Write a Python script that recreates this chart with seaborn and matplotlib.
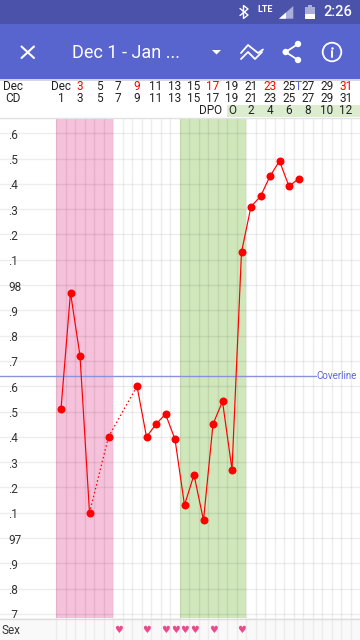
import matplotlib
matplotlib.use('Agg')
import matplotlib.pyplot as plt
from matplotlib.patches import Circle, Polygon, Rectangle
import seaborn as sns
import pandas as pd
import numpy as np

# chart data
days = [1, 2, 3, 4, 6, 9, 10, 11, 12, 13, 14, 15, 16, 17, 18, 19, 20, 21, 22, 23, 24, 25, 26]
temps = [97.51, 97.97, 97.72, 97.10, 97.40, 97.60, 97.40, 97.45, 97.49, 97.39, 97.13, 97.25, 97.07,
         97.45, 97.54, 97.27, 98.13, 98.31, 98.35, 98.43, 98.49, 98.39, 98.42]
coverline = 97.64
sex_days = [7, 10, 12, 13, 14, 15, 17, 20]
period = (0.5, 6.5)
fertile = (13.5, 20.5)
ytick_vals = [96.7, 96.8, 96.9, 97.0, 97.1, 97.2, 97.3, 97.4, 97.5, 97.6, 97.7, 97.8, 97.9, 98.0,
              98.1, 98.2, 98.3, 98.4, 98.5, 98.6]
ytick_text = ['.7', '.8', '.9', '97', '.1', '.2', '.3', '.4', '.5', '.6', '.7', '.8', '.9', '98',
              '.1', '.2', '.3', '.4', '.5', '.6']
odd_days = list(range(1, 32, 2))
date_row = ['Dec'] + [str(d) for d in odd_days[1:]]
red_dates = [3, 9, 17, 23, 31]
dpo_days = [19, 21, 23, 25, 27, 29, 31]
dpo_row = ['O', '2', '4', '6', '8', '10', '12']

INDIGO_DARK = '#4a52a9'
INDIGO = '#5865cf'
RED = '#ff0000'
HEART = '#ec4a8c'

sns.set_theme(style='white')
plt.rcParams['font.family'] = ['Roboto', 'DejaVu Sans']
plt.rcParams['text.color'] = '#222222'

W, H = 360, 640
fig = plt.figure(figsize=(W / 100, H / 100), dpi=100)
XLIM = (1 - 61 / 9.5, 1 + (W - 61) / 9.5)
YLIM = (98 - (618 - 285) / 253, 98 + (285 - 118) / 253)

ax = fig.add_axes([0, (H - 618) / H, 1, 500 / H])
sex_ax = fig.add_axes([0, 0, 1, (H - 618) / H], facecolor='#f9f9f9')
chrome = fig.add_axes([0, 0, 1, 1], zorder=5)
chrome.set_xlim(0, W)
chrome.set_ylim(H, 0)
chrome.axis('off')

# temperature chart
df = pd.DataFrame({'day': days, 'temp': temps})
df['run'] = (df['day'].diff().fillna(1) > 1).cumsum()
ax.axvspan(*period, color='#f6c1da', lw=0, zorder=0)
ax.axvspan(*fertile, color='#d0e7bb', lw=0, zorder=0)
ax.set_axisbelow(True)
grid_x = np.arange(period[0], 32)
ax.set_xticks(grid_x)
ax.set_yticks(ytick_vals)
ax.grid(True, color='black', alpha=0.07, lw=1)
ax.tick_params(length=0, labelbottom=False, labelleft=False)
ax.axhline(coverline, xmax=316 / W, color='#8b92dc', lw=1, zorder=2)

# gaps between recorded days are dotted, runs of days are solid
for a, b in zip(df.index[:-1], df.index[1:]):
    if df.loc[b, 'run'] != df.loc[a, 'run']:
        gap = df.loc[[a, b]]
        sns.lineplot(data=gap, x='day', y='temp', color=RED, lw=0.9, ax=ax, linestyle=(0, (1.2, 2)), zorder=3)
sns.lineplot(data=df, x='day', y='temp', units='run', estimator=None, color=RED, lw=0.85, ax=ax, zorder=3)
sns.scatterplot(data=df, x='day', y='temp', color=RED, s=33, linewidth=0, ax=ax, zorder=4)
ax.set_xlim(*XLIM)
ax.set_ylim(*YLIM)
ax.set_xlabel('')
ax.set_ylabel('')
for s in ax.spines.values():
    s.set_visible(False)
for v, t in zip(ytick_vals, ytick_text):
    ax.annotate(t, xy=(0, v), xycoords=ax.get_yaxis_transform(), xytext=(8, -2), textcoords='offset pixels',
                ha='left', va='center', fontsize=8.5, color='#333333')
ax.annotate('Coverline', xy=(0, coverline), xycoords=ax.get_yaxis_transform(), xytext=(316, 0),
            textcoords='offset pixels', ha='left', va='center', fontsize=7, color='#5b66d6')

# sex row
sex_ax.set_xlim(*XLIM)
sex_ax.set_ylim(0, 1)
sex_ax.set_xticks(grid_x)
sex_ax.set_yticks([])
sex_ax.grid(True, axis='x', color='black', alpha=0.05, lw=1)
sex_ax.tick_params(length=0, labelbottom=False)
for s in sex_ax.spines.values():
    s.set_visible(False)
sex_ax.text(2 / W, 0.45, 'Sex', transform=sex_ax.transAxes, ha='left', va='center', fontsize=8.5, color='#333333')
for d in sex_days:
    sex_ax.text(d, 0.45, '\u2665', family='DejaVu Sans', ha='center', va='center', fontsize=7, color=HEART)
chrome.plot([0, W], [618.5, 618.5], color='#dcdcdc', lw=1)

# header table, same x scale as the chart
def day_x(d):
    return 61 + (d - 1) * 9.5

chrome.add_patch(Rectangle((227, 105), W - 227, 12, color='#dcedcf', lw=0))
chrome.plot([0, W], [117.5, 117.5], color='#e2e2e2', lw=1)
chrome.text(13, 86.5, 'Dec', ha='center', va='center', fontsize=8.5)
chrome.text(13, 99, 'CD', ha='center', va='center', fontsize=8.5)
for d, t in zip(odd_days, date_row):
    chrome.text(day_x(d), 86.5, t, ha='center', va='center', fontsize=8.5, color=RED if d in red_dates else '#222222')
    chrome.text(day_x(d), 99, str(d), ha='center', va='center', fontsize=8.5)
chrome.text(day_x(26), 86.5, 'T', ha='center', va='center', fontsize=8.5, color='#5b66d6')
chrome.text(222, 111, 'DPO', ha='right', va='center', fontsize=8.5)
for d, t in zip(dpo_days, dpo_row):
    chrome.text(day_x(d), 111, t, ha='center', va='center', fontsize=8.5)

# app bars
chrome.add_patch(Rectangle((0, 0), W, 24, color=INDIGO_DARK, lw=0))
chrome.add_patch(Rectangle((0, 24), W, 55, color=INDIGO, lw=0))
chrome.add_patch(Rectangle((0, 79), W, 2, color='#d8d8d8', lw=0))
chrome.text(72, 52.5, 'Dec 1 - Jan ...', ha='left', va='center', fontsize=13, color='white')
chrome.text(338, 12.5, '2:26', ha='center', va='center', fontsize=10.5, weight='medium', color='white')
chrome.text(265.5, 9, 'LTE', ha='center', va='center', fontsize=6.5, weight='bold', color='white')

# toolbar and status icons
icon = dict(color='white', solid_capstyle='round', solid_joinstyle='round')
chrome.plot([21.5, 34], [46.5, 58], lw=1.5, **icon)
chrome.plot([21.5, 34], [58, 46.5], lw=1.5, **icon)
chrome.add_patch(Polygon([(212, 50), (221, 50), (216.5, 54.5)], color='white', lw=0))
chrome.plot([241, 248, 258, 263], [53, 45, 53, 49.5], lw=1.3, **icon)
chrome.plot([241, 248, 255, 262], [59, 52, 59, 52], lw=1.3, **icon)
chrome.plot([298, 285.7, 298], [44, 52, 60], lw=1.3, **icon)
for c in [(285.7, 52), (298, 44), (298, 60)]:
    chrome.add_patch(Circle(c, 3.2, color='white', lw=0))
chrome.add_patch(Circle((332, 52), 9.3, fill=False, ec='white', lw=1.3))
chrome.plot([332, 332], [51, 57], lw=1.4, **icon)
chrome.plot([332], [47.5], marker='o', ms=1.8, color='white', mew=0)
chrome.plot([240, 248, 243.5, 243.5, 248, 240], [8.5, 15, 18.5, 5.5, 9, 15.5], lw=1, color='white')
chrome.add_patch(Polygon([(279, 18.7), (293.3, 6), (293.3, 18.7)], color='#a9aedb', lw=0))
chrome.add_patch(Polygon([(279, 18.7), (286, 12.5), (286, 18.7)], color='white', lw=0))
chrome.add_patch(Rectangle((305, 6.5), 10, 12.2, color='#a9aedb', lw=0))
chrome.add_patch(Rectangle((308, 5), 4, 1.5, color='#a9aedb', lw=0))
chrome.add_patch(Rectangle((305, 14), 10, 4.7, color='white', lw=0))

fig.savefig('out.png', dpi=100)
